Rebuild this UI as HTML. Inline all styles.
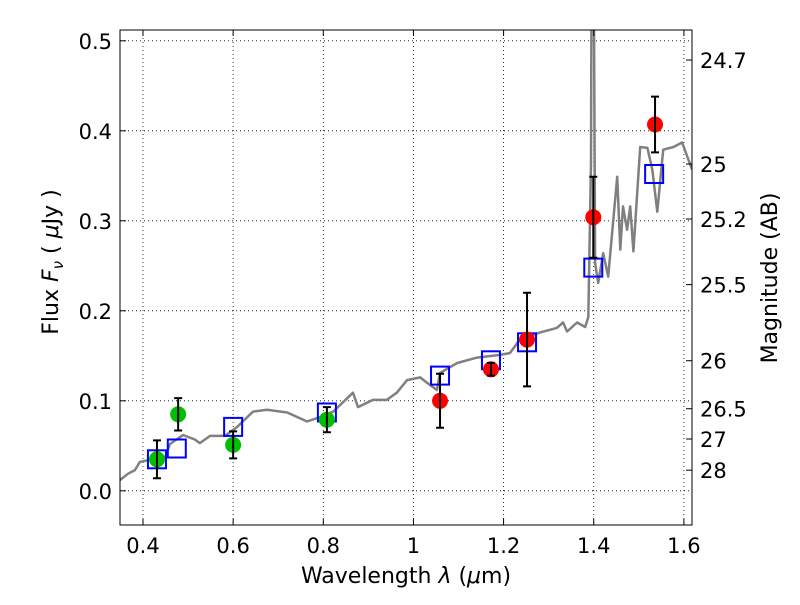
<!DOCTYPE html>
<html><head><meta charset="utf-8"><style>
body{margin:0;background:#fff;}
svg text{font-family:"DejaVu Sans","Liberation Sans",sans-serif;fill:#000;}
</style></head><body>
<svg id="chart" width="800" height="600" xmlns="http://www.w3.org/2000/svg">
<defs><clipPath id="clip"><rect x="120" y="30" width="572" height="495"/></clipPath></defs>
<g id="grid"></g>
<g id="marks" clip-path="url(#clip)"></g>
<rect x="120" y="30" width="572" height="495" fill="none" stroke="#000" stroke-width="1"/>
<g id="axes"></g>
<text x="406" y="583" font-size="22" text-anchor="middle">Wavelength  <tspan font-style="italic">λ</tspan> (<tspan font-style="italic">μ</tspan>m)</text>
<text transform="translate(58,262) rotate(-90)" font-size="22" text-anchor="middle">Flux  <tspan font-style="italic">F</tspan><tspan font-style="italic" font-size="15" dy="5">ν</tspan><tspan dy="-5">   ( </tspan><tspan font-style="italic">μ</tspan>Jy )</text>
<text transform="translate(777,278) rotate(-90)" font-size="22" text-anchor="middle">Magnitude (AB)</text>
</svg>
<script>
const specX=[0.349,0.367,0.382,0.393,0.411,0.438,0.449,0.460,0.489,0.515,0.526,0.549,0.582,0.609,0.644,0.675,0.720,0.764,0.793,0.822,0.866,0.877,0.910,0.941,0.963,0.986,1.015,1.030,1.052,1.059,1.097,1.141,1.192,1.214,1.236,1.281,1.318,1.332,1.341,1.363,1.381,1.388,1.394,1.396,1.399,1.403,1.410,1.421,1.432,1.452,1.459,1.465,1.474,1.481,1.488,1.503,1.519,1.530,1.541,1.554,1.577,1.596,1.618];
const specY=[0.012,0.019,0.023,0.032,0.034,0.040,0.037,0.052,0.062,0.057,0.053,0.061,0.061,0.071,0.088,0.090,0.087,0.077,0.082,0.088,0.109,0.093,0.101,0.101,0.109,0.123,0.126,0.120,0.112,0.131,0.142,0.148,0.151,0.153,0.168,0.176,0.181,0.187,0.177,0.187,0.182,0.193,0.364,0.7,0.7,0.253,0.231,0.264,0.238,0.349,0.268,0.316,0.290,0.316,0.266,0.382,0.381,0.357,0.310,0.379,0.382,0.387,0.357];
const greenX=[0.431,0.478,0.600,0.808];
const greenY=[0.035,0.085,0.051,0.079];
const greenErr=[0.021,0.018,0.015,0.014];
const redX=[1.059,1.172,1.252,1.399,1.536];
const redY=[0.100,0.135,0.168,0.304,0.407];
const redErr=[0.030,0.007,0.052,0.045,0.031];
const sqX=[0.431,0.475,0.600,0.808,1.059,1.172,1.252,1.399,1.534];
const sqY=[0.035,0.047,0.071,0.087,0.128,0.145,0.165,0.248,0.352];
const xTicks=[0.4,0.6,0.8,1.0,1.2,1.4,1.6];
const xTickLabels=["0.4","0.6","0.8","1","1.2","1.4","1.6"];
const yTicks=[0.0,0.1,0.2,0.3,0.4,0.5];
const yTickLabels=["0.0","0.1","0.2","0.3","0.4","0.5"];
const magTicks=[24.7,25,25.2,25.5,26,26.5,27,28];
const magTickLabels=["24.7","25","25.2","25.5","26","26.5","27","28"];

const X0=0.349,X1=1.618,Y0=-0.038,Y1=0.512;
const L=120,R=692,T=30,B=525;
function sx(v){return L+(v-X0)/(X1-X0)*(R-L);}
function sy(v){return B-(v-Y0)/(Y1-Y0)*(B-T);}
function magToFlux(m){return Math.pow(10,(23.9-m)/2.5);}
const NS="http://www.w3.org/2000/svg";
function mk(tag,attrs,parent){const e=document.createElementNS(NS,tag);for(const k in attrs)e.setAttribute(k,attrs[k]);parent.appendChild(e);return e;}
const grid=document.getElementById('grid'),marks=document.getElementById('marks'),axes=document.getElementById('axes');

xTicks.forEach((t,i)=>{
  const x=sx(t);
  const g=mk('line',{x1:x,x2:x,y1:T,y2:B,stroke:'#000','stroke-width':0.8,'stroke-dasharray':'1,3'},grid);
  
  
  const tk=mk('line',{x1:x,x2:x,y1:B,y2:B-6,stroke:'#000'},axes);
  
  
  mk('line',{x1:x,x2:x,y1:T,y2:T+6,stroke:'#000'},axes);
  const lb=mk('text',{x:x,y:B+28,'font-size':21,'text-anchor':'middle'},axes);
  lb.textContent=xTickLabels[i];
  
  
});
yTicks.forEach((t,i)=>{
  const y=sy(t);
  const g=mk('line',{x1:L,x2:R,y1:y,y2:y,stroke:'#000','stroke-width':0.8,'stroke-dasharray':'1,3'},grid);
  
  
  const tk=mk('line',{x1:L,x2:L+6,y1:y,y2:y,stroke:'#000'},axes);
  
  
  const lb=mk('text',{x:L-8,y:y+8,'font-size':21,'text-anchor':'end'},axes);
  lb.textContent=yTickLabels[i];
  
  
});
magTicks.forEach((m,i)=>{
  const y=sy(magToFlux(m));
  const tk=mk('line',{x1:R-6,x2:R,y1:y,y2:y,stroke:'#000'},axes);
  
  
  const lb=mk('text',{x:R+8,y:y+8,'font-size':21,'text-anchor':'start'},axes);
  lb.textContent=magTickLabels[i];
  
  
});

const pts=specX.map((v,i)=>sx(v).toFixed(1)+','+sy(specY[i]).toFixed(1)).join(' ');
const sp=mk('polyline',{points:pts,fill:'none',stroke:'#808080','stroke-width':2.5,'stroke-linejoin':'round'},marks);



sqX.forEach((v,i)=>{
  const s=mk('rect',{x:sx(v)-9,y:sy(sqY[i])-9,width:18,height:18,fill:'none',stroke:'#0000ff','stroke-width':2},marks);
  
  
});
function pointsWithErr(xs,ys,es,color,name){
  xs.forEach((v,i)=>{
    const x=sx(v),y=sy(ys[i]);
    const c=mk('circle',{cx:x,cy:y,r:8,fill:color},marks);
    
    
    const y1=sy(ys[i]+es[i]),y2=sy(ys[i]-es[i]);
    const eb=mk('path',{d:`M${x},${y1}V${y2}M${x-4},${y1}H${x+4}M${x-4},${y2}H${x+4}`,stroke:'#000','stroke-width':2,fill:'none'},marks);
    
    
  });
}
pointsWithErr(greenX,greenY,greenErr,'#00c000','hst-point');
pointsWithErr(redX,redY,redErr,'#ff0000','ir-point');
</script>
</body></html>
